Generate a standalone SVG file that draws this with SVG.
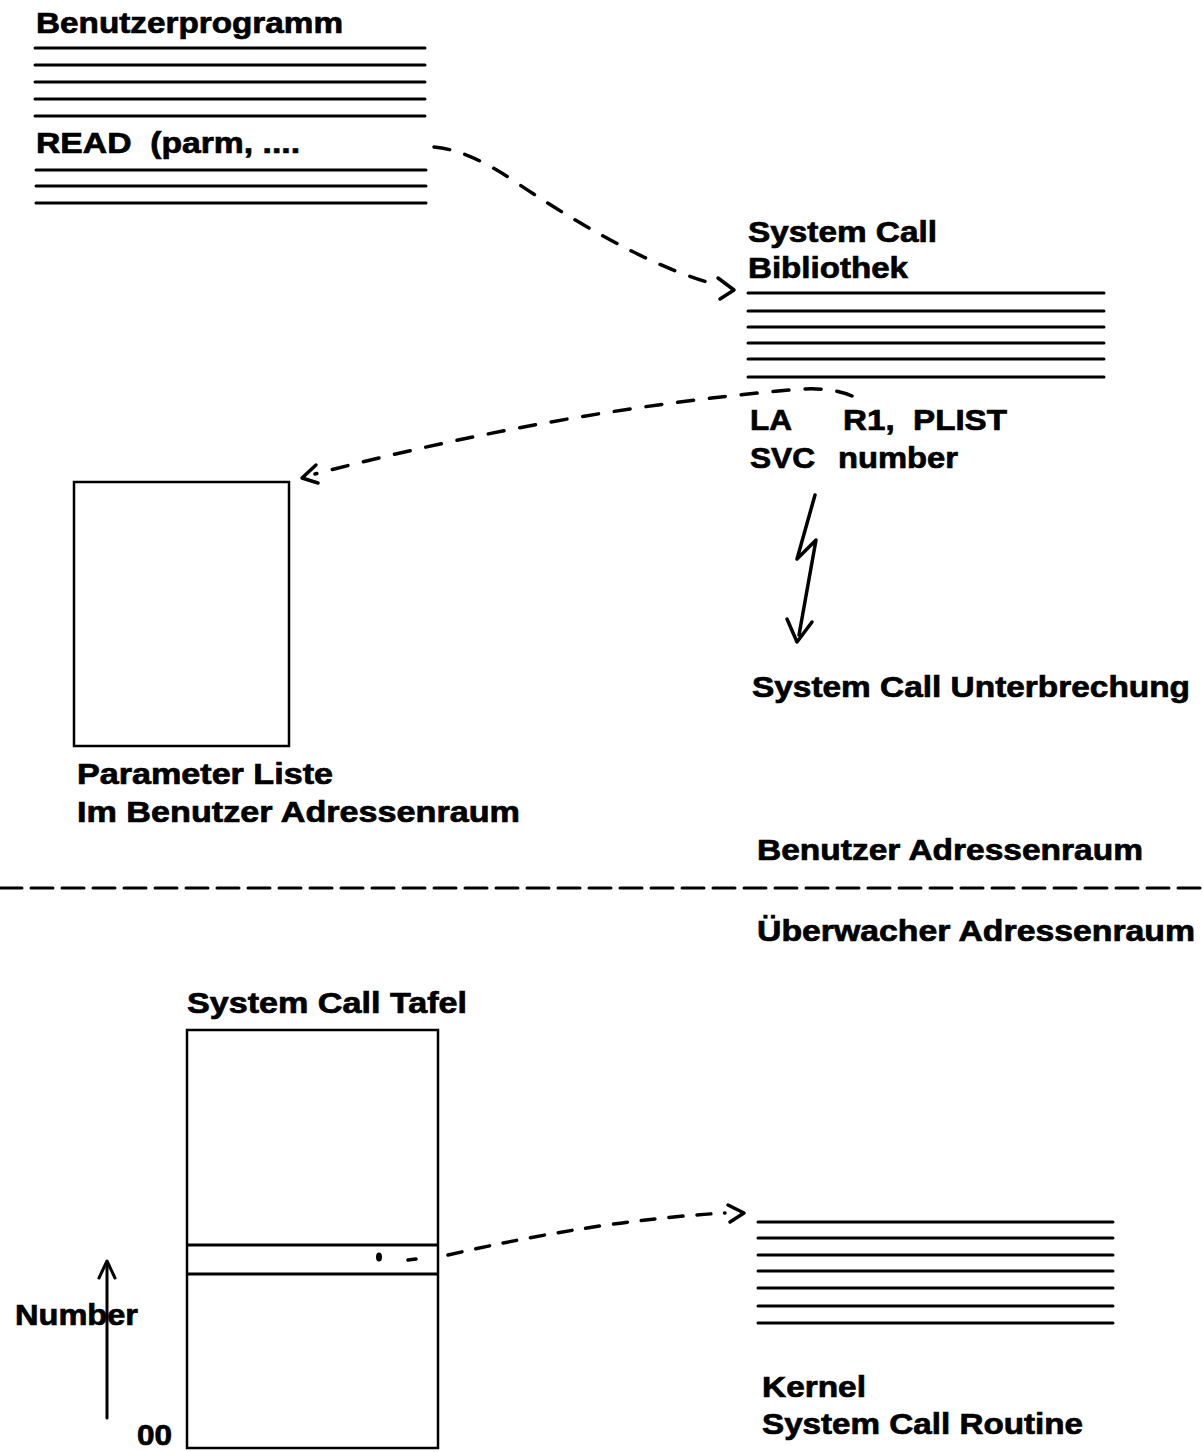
<svg xmlns="http://www.w3.org/2000/svg" width="1203" height="1452" viewBox="0 0 1203 1452">
<defs>
<style>
text{font-family:"Liberation Sans",Arial,sans-serif;font-weight:bold;font-size:29px;fill:#000;stroke:#000;stroke-width:0.7;white-space:pre}
.ln{stroke:#000;stroke-width:3;fill:none;stroke-linecap:round}
.box{stroke:#000;stroke-width:2.5;fill:none}
.dash{stroke:#000;stroke-width:3.5;fill:none;stroke-dasharray:16 16;stroke-linecap:round}
.head{stroke:#000;stroke-width:3.5;fill:none;stroke-linecap:round;stroke-linejoin:round}
</style>
</defs>
<rect width="1203" height="1452" fill="#fff"/>

<g id="benutzerprogramm">
<text x="36" y="33" textLength="307" lengthAdjust="spacingAndGlyphs">Benutzerprogramm</text>
<path class="ln" d="M35 48H425M35 65H425M35 82H425M35 99H425M35 116H425"/>
<text x="36" y="153" textLength="264" lengthAdjust="spacingAndGlyphs" xml:space="preserve">READ  (parm, ....</text>
<path class="ln" d="M36 170H426M36 186H426M36 203H426"/>
</g>

<g id="bibliothek">
<text x="748" y="242" textLength="189" lengthAdjust="spacingAndGlyphs">System Call</text>
<text x="748" y="278" textLength="160" lengthAdjust="spacingAndGlyphs">Bibliothek</text>
<path class="ln" d="M748 293H1104M748 311H1104M748 327H1104M748 343H1104M748 359H1104M748 377H1104"/>
<text x="750" y="430" textLength="42" lengthAdjust="spacingAndGlyphs">LA</text>
<text x="843" y="430" textLength="164" lengthAdjust="spacingAndGlyphs" xml:space="preserve">R1,  PLIST</text>
<text x="750" y="468" textLength="65" lengthAdjust="spacingAndGlyphs">SVC</text>
<text x="838" y="468" textLength="120" lengthAdjust="spacingAndGlyphs">number</text>
</g>

<g id="parameterliste">
<rect class="box" x="74" y="482" width="215" height="264"/>
<text x="77" y="784" textLength="256" lengthAdjust="spacingAndGlyphs">Parameter Liste</text>
<text x="77" y="822" textLength="443" lengthAdjust="spacingAndGlyphs">Im Benutzer Adressenraum</text>
</g>

<g id="unterbrechung">
<text x="752" y="697" textLength="438" lengthAdjust="spacingAndGlyphs">System Call Unterbrechung</text>
</g>

<g id="adressraum">
<text x="757" y="860" textLength="386" lengthAdjust="spacingAndGlyphs">Benutzer Adressenraum</text>
<text x="757" y="941" textLength="438" lengthAdjust="spacingAndGlyphs">Überwacher Adressenraum</text>
</g>

<g id="tafel">
<text x="187" y="1013" textLength="280" lengthAdjust="spacingAndGlyphs">System Call Tafel</text>
<rect class="box" x="187" y="1030" width="251" height="418"/>
<path class="ln" d="M188 1245H437M188 1274H437"/>
<ellipse cx="379" cy="1257" rx="3" ry="4.5" fill="#000"/>
<text x="15" y="1325" textLength="123" lengthAdjust="spacingAndGlyphs">Number</text>
<text x="137" y="1445" textLength="35" lengthAdjust="spacingAndGlyphs">00</text>
</g>

<g id="kernel">
<path class="ln" d="M758 1222H1113M758 1238H1113M758 1255H1113M758 1271H1113M758 1288H1113M758 1306H1113M758 1323H1113"/>
<text x="762" y="1397" textLength="104" lengthAdjust="spacingAndGlyphs">Kernel</text>
<text x="762" y="1434" textLength="321" lengthAdjust="spacingAndGlyphs">System Call Routine</text>
</g>

<g id="connectors">
<path class="dash" d="M434 147 Q470 150 520 185 Q640 265 718 285"/>
<path class="head" d="M718 278 L734 290 L720 299"/>
<path class="dash" d="M852 396 Q830 386 790 390 Q560 410 315 474"/>
<path class="head" d="M316 465 L302 478 L318 483"/>
<path class="head" d="M815 495 L797 559 L816 540 L799 635"/>
<path class="head" d="M787 619 L797 642 L812 622"/>
<path class="dash" d="M0 888H1203" style="stroke-dasharray:22 9;stroke-width:3"/>
<path class="dash" d="M408 1260 L416 1259 M448 1255 Q600 1220 725 1213" style="stroke-dasharray:14 14"/>
<path class="head" d="M728 1205 L744 1213 L730 1222"/>
<path class="ln" d="M107 1418 V1262"/>
<path class="head" d="M99 1278 L107 1261 L115 1278" style="stroke-width:3"/>
</g>
</svg>
